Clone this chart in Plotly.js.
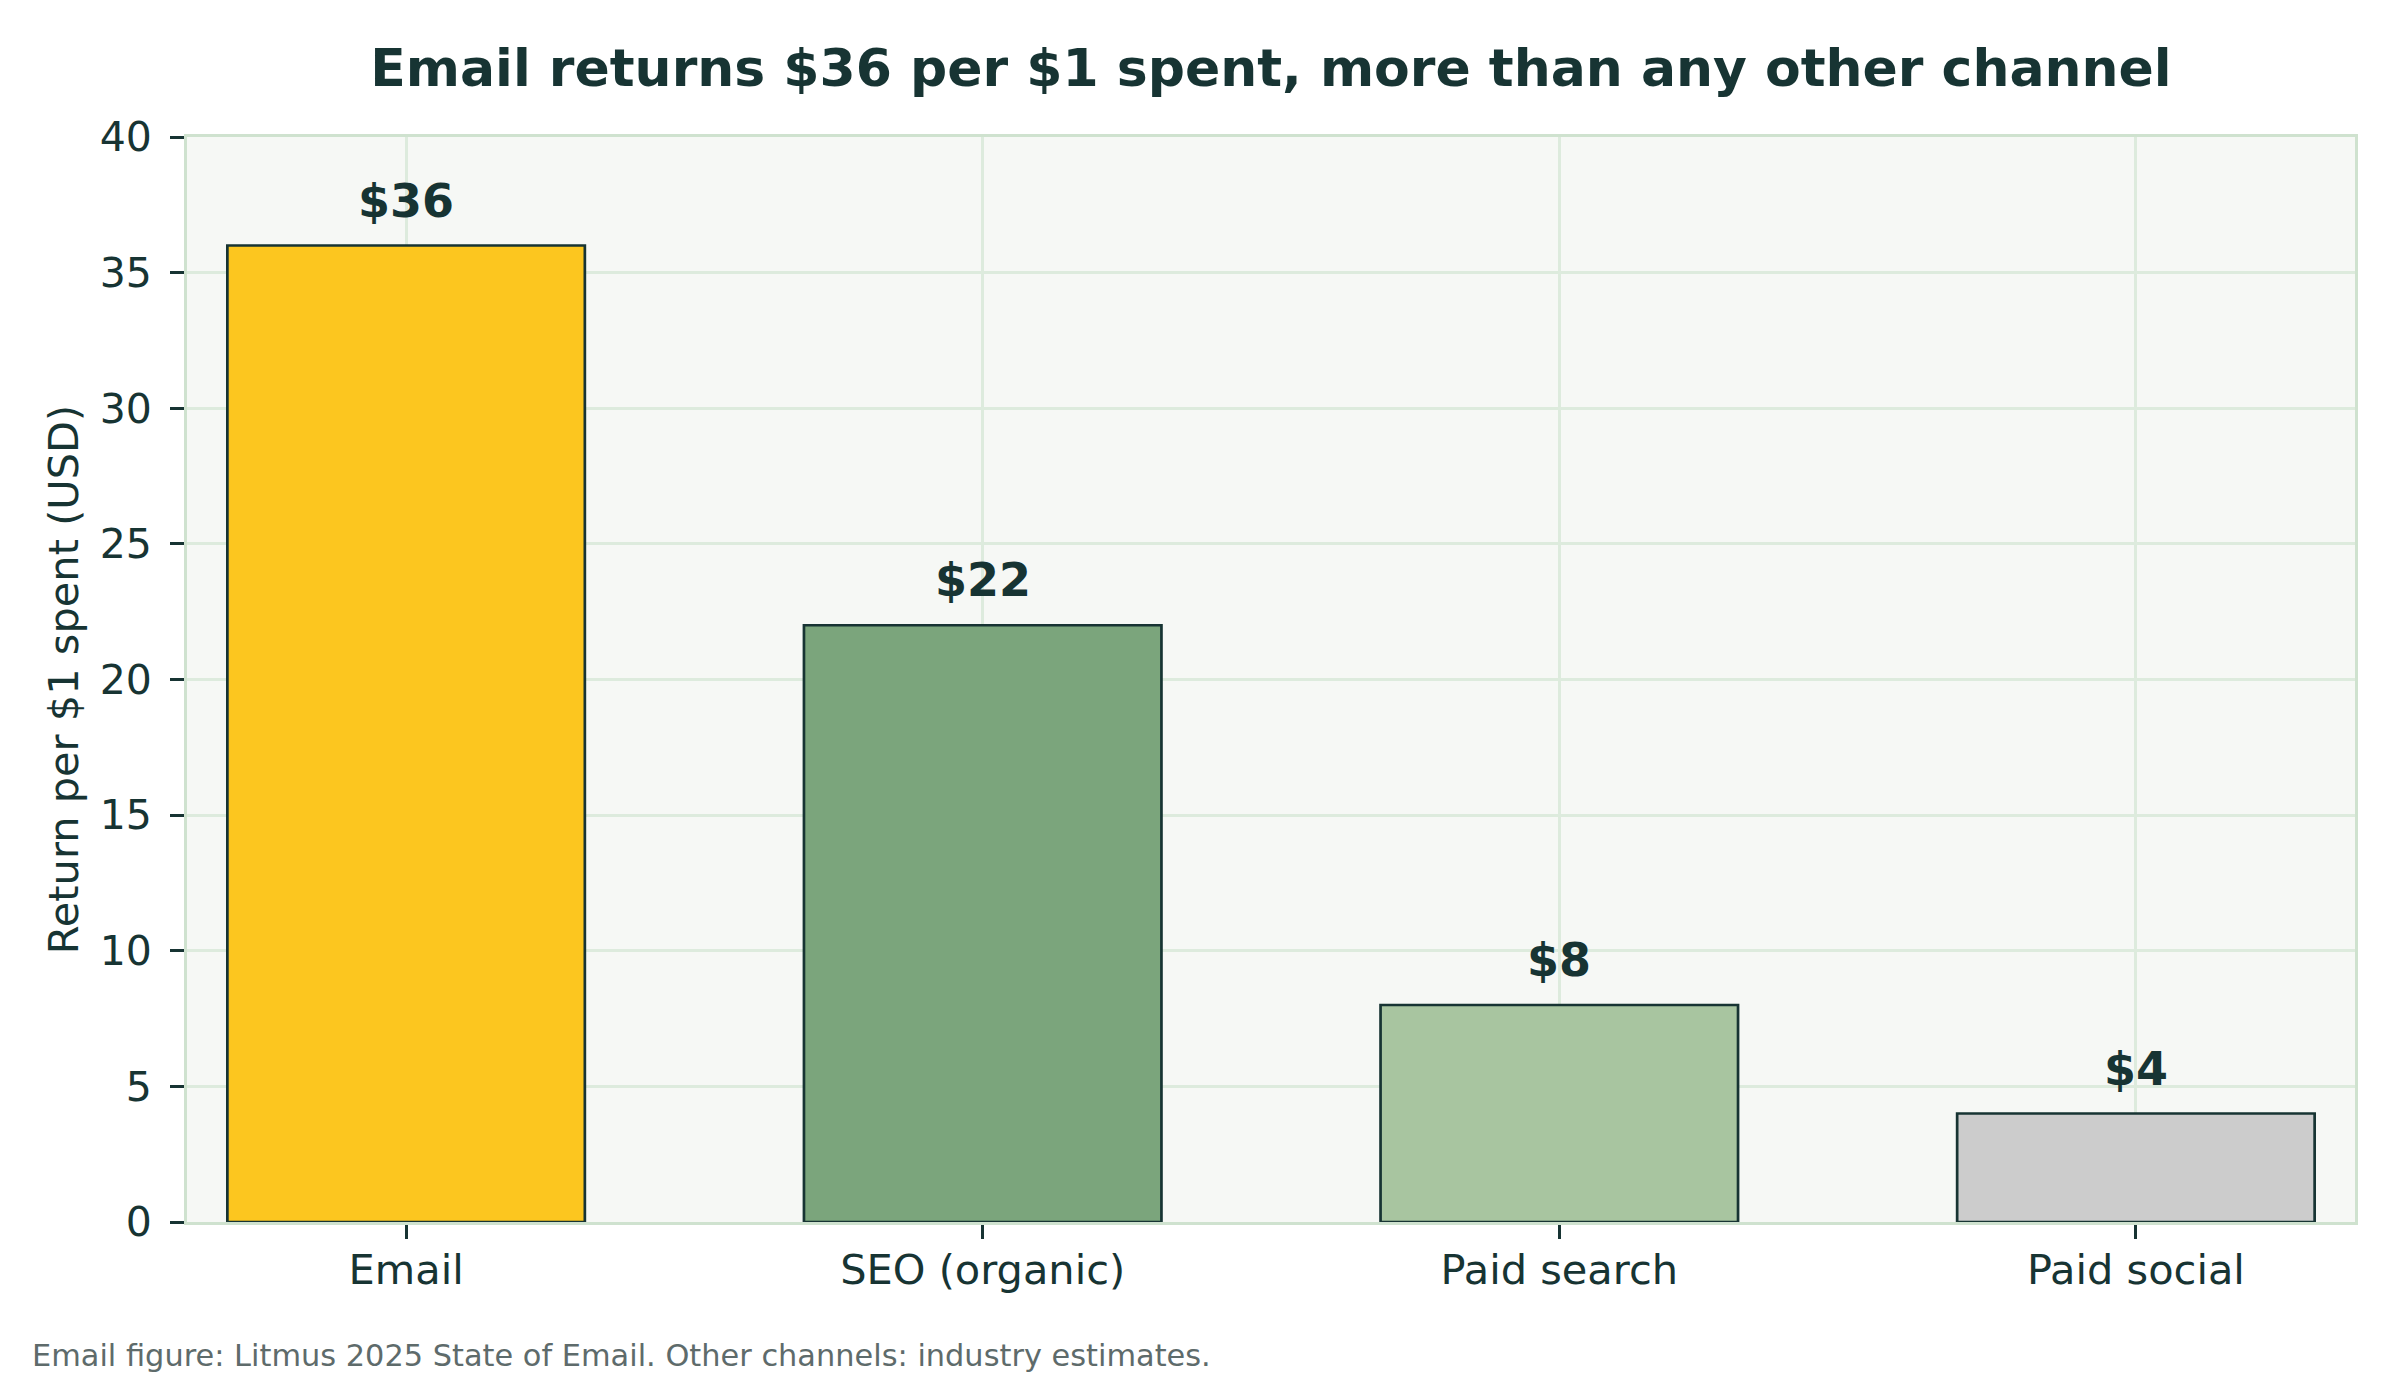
<!DOCTYPE html>
<html>
<head>
<meta charset="utf-8">
<script src="https://cdn.plot.ly/plotly-3.0.1.min.js"></script>
<style>
  html, body { margin: 0; padding: 0; background: #ffffff; }
  #chart { width: 2400px; height: 1380px; }
</style>
</head>
<body>
<div id="chart"></div>
<script>
// ---- Data ----
const channels = ["Email", "SEO (organic)", "Paid search", "Paid social"];
const roiValues = [36, 22, 8, 4];
const barLabels = ["$36", "$22", "$8", "$4"];
const barColors = ["#FCC61F", "#7BA57C", "#A8C5A0", "#CCCCCC"];
const yTickValues = [0, 5, 10, 15, 20, 25, 30, 35, 40];

const chartTitle = "Email returns $36 per $1 spent, more than any other channel";
const yAxisTitle = "Return per $1 spent (USD)";
const footnote = "Email figure: Litmus 2025 State of Email. Other channels: industry estimates.";

// ---- Styles ----
const FONT = "DejaVu Sans, Verdana, sans-serif";
const DARK = "#173433";
const GRID = "#DDEBDD";
const SPINE = "#CFE2CF";

const trace = {
  type: "bar",
  x: channels,
  y: roiValues,
  width: 0.62,
  marker: {
    color: barColors,
    line: { color: DARK, width: 2.7 }
  },
  hoverinfo: "skip"
};

const labelAnnotations = channels.map((c, i) => ({
  x: c,
  y: roiValues[i],
  xref: "x",
  yref: "y",
  text: "<b>" + barLabels[i] + "</b>",
  showarrow: false,
  yanchor: "bottom",
  yshift: 16,
  font: { family: FONT, size: 46, color: DARK }
}));

const layout = {
  width: 2400,
  height: 1380,
  margin: { l: 187, r: 45, t: 137, b: 158 },
  paper_bgcolor: "#FFFFFF",
  plot_bgcolor: "#F6F8F5",
  font: { family: FONT, color: DARK, size: 41 },
  showlegend: false,
  bargap: 0.38,
  title: {
    text: "<b>" + chartTitle + "</b>",
    font: { family: FONT, size: 52, color: DARK },
    x: 0.5,
    xref: "paper",
    xanchor: "center",
    y: 1 - 68 / 1380,
    yref: "container",
    yanchor: "middle"
  },
  xaxis: {
    type: "category",
    range: [-0.38, 3.38],
    showgrid: true,
    gridcolor: GRID,
    gridwidth: 3,
    showline: true,
    linecolor: SPINE,
    linewidth: 3,
    mirror: true,
    ticks: "outside",
    ticklen: 14,
    tickwidth: 3,
    tickcolor: DARK,
    ticklabelstandoff: -5,
    tickfont: { family: FONT, size: 41.5, color: DARK },
    fixedrange: true
  },
  yaxis: {
    range: [0, 40],
    tickvals: yTickValues,
    showgrid: true,
    gridcolor: GRID,
    gridwidth: 3,
    zeroline: false,
    showline: true,
    linecolor: SPINE,
    linewidth: 3,
    mirror: true,
    ticks: "outside",
    ticklen: 14,
    tickwidth: 3,
    tickcolor: DARK,
    ticklabelstandoff: 10,
    tickfont: { family: FONT, size: 41, color: DARK },
    title: {
      text: yAxisTitle,
      font: { family: FONT, size: 41.5, color: DARK },
      standoff: 9
    },
    automargin: false,
    fixedrange: true
  },
  annotations: labelAnnotations.concat([{
    text: footnote,
    xref: "paper",
    yref: "paper",
    x: (30 - 187) / 2168,
    y: (1222 - 1375) / 1085,
    xanchor: "left",
    yanchor: "bottom",
    showarrow: false,
    font: { family: FONT, size: 30.4, color: "#5E6B6B" }
  }])
};

Plotly.newPlot("chart", [trace], layout, { displayModeBar: false, staticPlot: true });
</script>
</body>
</html>
